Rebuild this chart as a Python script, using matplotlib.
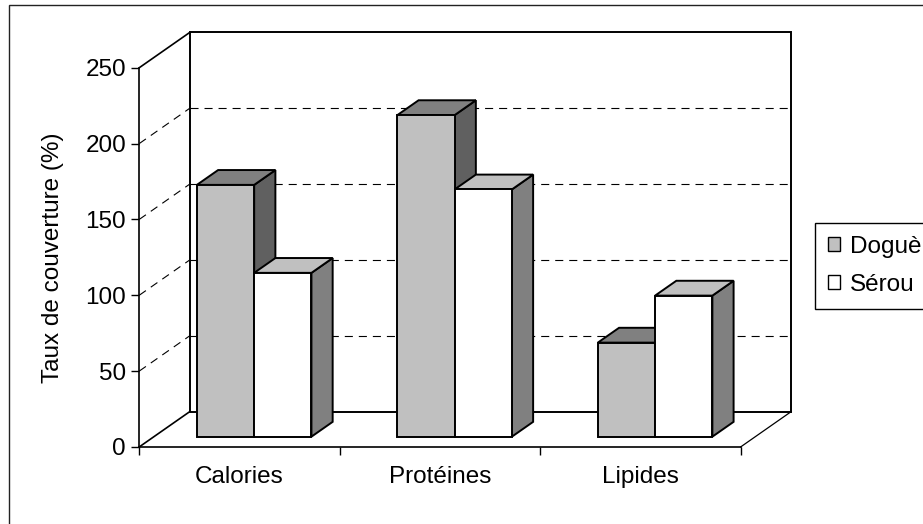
import matplotlib
matplotlib.use("Agg")
import matplotlib.pyplot as plt
from matplotlib.patches import Polygon, Rectangle, Patch

# ---- data -------------------------------------------------------------
categories = ["Calories", "Protéines", "Lipides"]
series_names = ["Doguè", "Sérou"]
dogue = [166, 212, 62]
serou = [108, 163, 93]
yticks = [0, 50, 100, 150, 200, 250]
ylabel = "Taux de couverture (%)"

# ---- style ------------------------------------------------------------
plt.rcParams["font.family"] = ["Liberation Sans", "DejaVu Sans"]
plt.rcParams["lines.scale_dashes"] = False
FS = 17.5

# face colours per series: (front, top, side)
shades = [("#c0c0c0", "#808080", "#606060"),
          ("#ffffff", "#c0c0c0", "#808080")]

W, H, DPI = 923, 524, 100
fig = plt.figure(figsize=(W / DPI, H / DPI), dpi=DPI)
ax = fig.add_axes([139.3 / W, (H - 446.9) / H, 601.4 / W, 379.2 / H])
ncat = len(categories)
ymax = yticks[-1]
ax.set_xlim(0, ncat)
ax.set_ylim(0, ymax)

# oblique depth offset of the back wall, expressed in data units
DEPTH_PX = (50.5, 35.3)
ddx = DEPTH_PX[0] / (ax.bbox.width / ncat)
ddy = DEPTH_PX[1] / (ax.bbox.height / ymax)


def P(x, y, d):
    """Point (x, y) pushed back to depth d (0 = front plane, 1 = back wall)."""
    return (x + d * ddx, y + d * ddy)


def seg(p, q, **kw):
    ax.plot([p[0], q[0]], [p[1], q[1]], clip_on=False, **kw)


dash = dict(color="black", lw=0.8, linestyle=(0, (5.8, 4.3)), zorder=1)
solid = dict(color="black", lw=1.2, zorder=2)

# gridlines on the back wall and the left side wall
for v in yticks[1:-1]:
    seg(P(0, v, 1), P(ncat, v, 1), **dash)
    seg(P(0, v, 0), P(0, v, 1), **dash)

# walls and floor outline
ax.add_patch(Polygon([P(0, 0, 1), P(0, ymax, 1), P(ncat, ymax, 1), P(ncat, 0, 1)],
                     closed=True, fill=False, ec="black", lw=1.4,
                     clip_on=False, zorder=2))
seg(P(0, ymax, 0), P(0, ymax, 1), **solid)
seg(P(0, 0, 0), P(0, 0, 1), **solid)
seg(P(ncat, 0, 0), P(ncat, 0, 1), color="black", lw=0.9, zorder=2)

# ---- 3-D columns -------------------------------------------------------
bar_w = 1 / 3.5
f0, f1 = 0.29, 0.71
z = 10
for i in range(ncat):
    for s, vals in enumerate([dogue, serou]):
        v = vals[i]
        x0 = i + 0.5 - bar_w + s * bar_w
        x1 = x0 + bar_w
        front, top, side = shades[s]
        faces = [
            ([P(x1, 0, f0), P(x1, v, f0), P(x1, v, f1), P(x1, 0, f1)], side),
            ([P(x0, v, f0), P(x1, v, f0), P(x1, v, f1), P(x0, v, f1)], top),
            ([P(x0, 0, f0), P(x1, 0, f0), P(x1, v, f0), P(x0, v, f0)], front),
        ]
        for pts, col in faces:
            ax.add_patch(Polygon(pts, closed=True, fc=col, ec="black",
                                 lw=1.4, joinstyle="miter",
                                 clip_on=False, zorder=z))
            z += 1

# ---- axes --------------------------------------------------------------
for sp in ("top", "right"):
    ax.spines[sp].set_visible(False)
for sp in ("left", "bottom"):
    ax.spines[sp].set_linewidth(1.2)
    ax.spines[sp].set_zorder(3)
ax.patch.set_visible(False)

ax.set_yticks(yticks)
ax.tick_params(axis="y", direction="out", length=6, width=1, labelsize=FS, pad=3.5)
ax.set_xticks([i + 0.5 for i in range(ncat)])
ax.set_xticklabels(categories)
ax.set_xticks(range(ncat + 1), minor=True)
ax.tick_params(axis="x", which="major", length=0, labelsize=FS, pad=14)
ax.tick_params(axis="x", which="minor", direction="out", length=6, width=1)

ax.set_ylabel(ylabel, fontsize=FS)
ax.yaxis.set_label_coords(-0.125, 0.5)

# ---- legend ------------------------------------------------------------
handles = [Patch(fc=shades[s][0], ec="black", lw=1) for s in range(2)]
leg = fig.legend(handles, series_names, loc="upper left",
                 bbox_to_anchor=(815 / W, 1 - 223 / H),
                 bbox_transform=fig.transFigure, borderaxespad=0,
                 frameon=True, fancybox=False, edgecolor="black",
                 framealpha=1, fontsize=FS, handlelength=0.5,
                 handleheight=0.5, handletextpad=0.41, borderpad=0.53,
                 labelspacing=0.66)
leg.get_frame().set_linewidth(1)

# chart area border
fig.add_artist(Rectangle((9 / W, -0.1), 1.2, 1.1 - 5.3 / H,
                         transform=fig.transFigure, fill=False,
                         ec="#222222", lw=1))

fig.savefig("out.png", dpi=DPI)
